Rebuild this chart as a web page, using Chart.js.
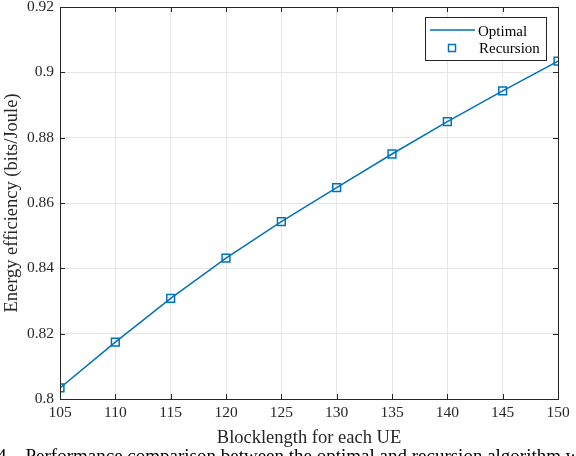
<!DOCTYPE html>
<html>
<head>
<meta charset="utf-8">
<script src="https://cdn.jsdelivr.net/npm/chart.js@4"></script>
<style>
  html, body { margin: 0; padding: 0; background: #fff; }
  #wrap { width: 576px; height: 456px; position: relative; overflow: hidden; }
</style>
</head>
<body>
<div id="wrap"><canvas id="eeChart" width="576" height="456"></canvas></div>
<script>
// Blocklength values (x) and energy efficiency
const blocklengths = [105, 110, 115, 120, 125, 130, 135, 140, 145, 150];
const optimalEE = [0.8034, 0.8174, 0.8308, 0.8431, 0.8543, 0.8647, 0.8750, 0.8849, 0.8943, 0.9034];
const recursionEE = [0.8034, 0.8174, 0.8308, 0.8431, 0.8543, 0.8647, 0.8750, 0.8849, 0.8943, 0.9034];
const xTicks = [105, 110, 115, 120, 125, 130, 135, 140, 145, 150];
const yTicks = [0.8, 0.82, 0.84, 0.86, 0.88, 0.9, 0.92];

const blue = '#0072BD';
const serif = "'Liberation Serif', 'DejaVu Serif', serif";

// MATLAB-style box with inward ticks, plus the legend box
const framePlugin = {
    id: 'frame',
    afterDraw(chart) {
        const { ctx, chartArea: a, scales } = chart;
        ctx.save();
        ctx.strokeStyle = '#262626';
        ctx.lineWidth = 1;
        ctx.strokeRect(a.left + 0.5, a.top + 0.5, a.right - a.left, a.bottom - a.top);

        const tl = 5;
        ctx.beginPath();
        xTicks.forEach(v => {
            const x = Math.round(scales.x.getPixelForValue(v)) + 0.5;
            ctx.moveTo(x, a.bottom); ctx.lineTo(x, a.bottom - tl);
            ctx.moveTo(x, a.top); ctx.lineTo(x, a.top + tl);
        });
        yTicks.forEach(v => {
            const y = Math.round(scales.y.getPixelForValue(v)) + 0.5;
            ctx.moveTo(a.left, y); ctx.lineTo(a.left + tl, y);
            ctx.moveTo(a.right, y); ctx.lineTo(a.right - tl, y);
        });
        ctx.stroke();

        // legend
        const lx = 425, ly = 17, lw = 121, lh = 43;
        ctx.fillStyle = '#fff';
        ctx.fillRect(lx, ly, lw, lh);
        ctx.strokeStyle = '#262626';
        ctx.strokeRect(lx + 0.5, ly + 0.5, lw, lh);
        ctx.font = '15px ' + serif;
        ctx.fillStyle = '#000';
        ctx.textBaseline = 'middle';
        const ds = chart.data.datasets;
        ctx.strokeStyle = blue;
        ctx.lineWidth = 1.5;
        ctx.beginPath();
        ctx.moveTo(lx + 5, ly + 13); ctx.lineTo(lx + 50, ly + 13);
        ctx.stroke();
        ctx.fillText(ds[0].label, lx + 53, ly + 15);
        ctx.strokeRect(lx + 23.5, ly + 27.5, 7, 7);
        ctx.fillText(ds[1].label, lx + 54, ly + 32);

        // caption fragment cut off at the bottom of the image
        ctx.font = '19px ' + serif;
        ctx.textBaseline = 'alphabetic';
        ctx.fillText('4.   Performance comparison between the optimal and recursion algorithm with', -3, 462);
        ctx.restore();
    }
};

new Chart(document.getElementById('eeChart'), {
    type: 'line',
    data: {
        labels: blocklengths,
        datasets: [{
            label: 'Optimal',
            data: blocklengths.map((x, i) => ({ x: x, y: optimalEE[i] })),
            borderColor: blue,
            borderWidth: 1.5,
            pointRadius: 0,
            tension: 0
        }, {
            label: 'Recursion',
            data: blocklengths.map((x, i) => ({ x: x, y: recursionEE[i] })),
            showLine: false,
            borderColor: blue,
            backgroundColor: 'rgba(0,0,0,0)',
            pointStyle: 'rect',
            pointRadius: 5.5,
            pointBorderWidth: 1.5
        }]
    },
    options: {
        responsive: false,
        animation: false,
        layout: { padding: { top: 6, right: 18, bottom: 0, left: 0 } },
        plugins: { legend: { display: false }, tooltip: { enabled: false } },
        scales: {
            x: {
                type: 'linear',
                min: 105,
                max: 150,
                afterBuildTicks: s => { s.ticks = xTicks.map(v => ({ value: v })); },
                afterFit: s => { s.height = 57; s.paddingLeft = 0; s.paddingRight = 0; },
                grid: { color: '#e6e6e6', drawTicks: false },
                border: { display: false },
                ticks: { color: '#262626', font: { family: serif, size: 15.5 }, padding: 5, maxRotation: 0 },
                title: {
                    display: true,
                    text: 'Blocklength for each UE',
                    color: '#262626',
                    font: { family: serif, size: 18.5 },
                    padding: { top: 0, bottom: 7 }
                }
            },
            y: {
                min: 0.8,
                max: 0.92,
                afterBuildTicks: s => { s.ticks = yTicks.map(v => ({ value: v })); },
                afterFit: s => { s.width = 60; s.paddingTop = 0; s.paddingBottom = 0; },
                grid: { color: '#e6e6e6', drawTicks: false },
                border: { display: false },
                ticks: {
                    color: '#262626',
                    font: { family: serif, size: 15.5 },
                    padding: 6,
                    callback: v => String(Math.round(v * 100) / 100)
                },
                title: {
                    display: true,
                    text: 'Energy efficiency (bits/Joule)',
                    color: '#262626',
                    font: { family: serif, size: 18.5 },
                    padding: { top: 1, bottom: 0 }
                }
            }
        }
    },
    plugins: [framePlugin]
});
</script>
</body>
</html>
